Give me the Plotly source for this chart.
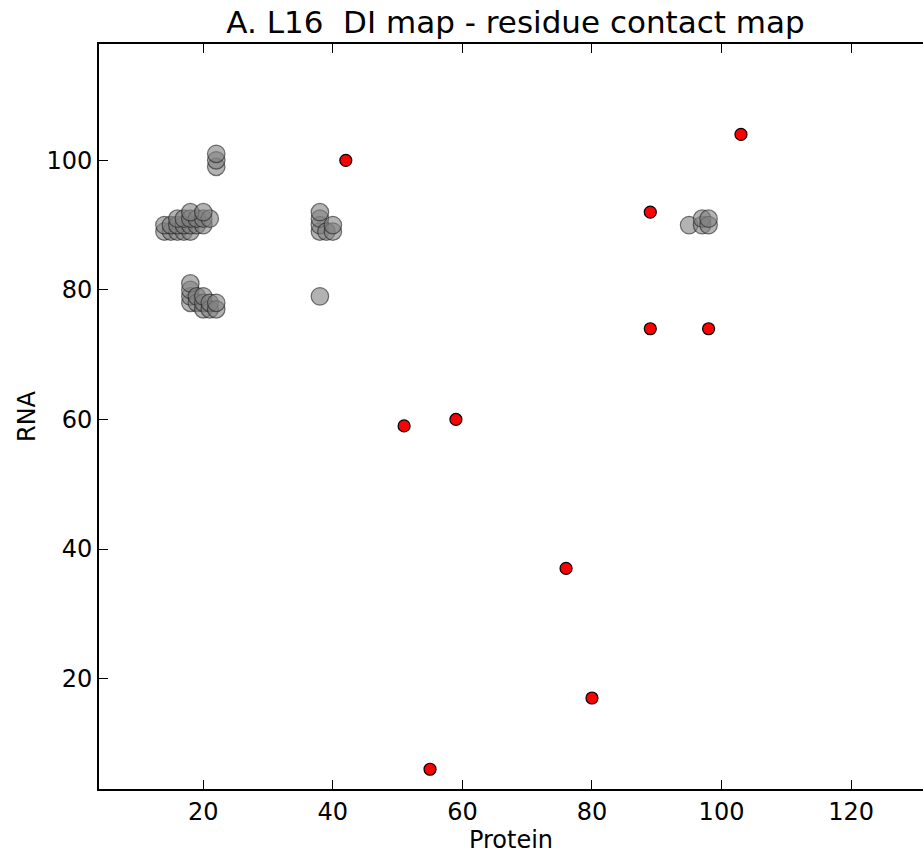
import plotly.graph_objects as go

# Gray circles (residue contact map)
contact_x = [22, 22, 22,
             14, 15, 16, 17, 18,
             14, 15, 16, 17, 18, 19, 20,
             16, 17, 18, 19, 20, 21,
             18, 20,
             18, 18, 18, 18, 19, 19, 20, 20, 20, 21, 21, 22, 22,
             38, 38, 38, 38, 39, 40, 40, 38,
             95, 97, 97, 98, 98]
contact_y = [99, 100, 101,
             89, 89, 89, 89, 89,
             90, 90, 90, 90, 90, 90, 90,
             91, 91, 91, 91, 91, 91,
             92, 92,
             78, 79, 80, 81, 78, 79, 77, 78, 79, 77, 78, 77, 78,
             89, 90, 91, 92, 89, 89, 90, 79,
             90, 90, 91, 90, 91]

# Red circles (DI map)
di_x = [42, 51, 59, 55, 76, 80, 89, 89, 98, 103]
di_y = [100, 59, 60, 6, 37, 17, 92, 74, 74, 104]

x_ticks = [20, 40, 60, 80, 100, 120]
y_ticks = [20, 40, 60, 80, 100]

FONT = "DejaVu Sans"

fig = go.Figure()
fig.add_trace(go.Scatter(
    x=contact_x, y=contact_y, mode="markers",
    marker=dict(size=17.5, color="rgba(128,128,128,0.6)",
                line=dict(color="rgba(30,30,30,0.6)", width=1.2)),
    hoverinfo="x+y", showlegend=False))
fig.add_trace(go.Scatter(
    x=di_x, y=di_y, mode="markers",
    marker=dict(size=12, color="#ff0000",
                line=dict(color="black", width=1.2)),
    hoverinfo="x+y", showlegend=False))

fig.update_layout(
    width=923, height=854,
    margin=dict(l=99, r=0, t=44, b=65),
    paper_bgcolor="white", plot_bgcolor="white",
    font=dict(family=FONT, size=24, color="black"),
    title=dict(text="A. L16  DI map - residue contact map",
               font=dict(family=FONT, size=31, color="black"),
               x=515.5 / 923, xref="container", xanchor="center",
               y=1 - 22 / 854, yref="container", yanchor="middle"),
)
fig.update_xaxes(
    range=[3.9, 131.1], tickvals=x_ticks, ticktext=[str(v) for v in x_ticks],
    showgrid=False, zeroline=False,
    showline=True, linecolor="black", linewidth=2, mirror="ticks",
    ticks="inside", ticklen=9, tickwidth=1, tickcolor="black",
    tickfont=dict(family=FONT, size=24),
    title=dict(text="Protein", font=dict(family=FONT, size=24), standoff=6),
)
fig.update_yaxes(
    range=[2.95, 117.96], tickvals=y_ticks, ticktext=[str(v) for v in y_ticks],
    showgrid=False, zeroline=False,
    showline=True, linecolor="black", linewidth=2, mirror=False,
    ticks="inside", ticklen=9, tickwidth=1, tickcolor="black",
    tickfont=dict(family=FONT, size=24),
    title=dict(text="RNA", font=dict(family=FONT, size=24), standoff=4),
)

fig.write_html(
    "out.html",
    config={"displayModeBar": False},
    post_script="document.body.style.margin='0';document.body.style.overflow='hidden';",
)
